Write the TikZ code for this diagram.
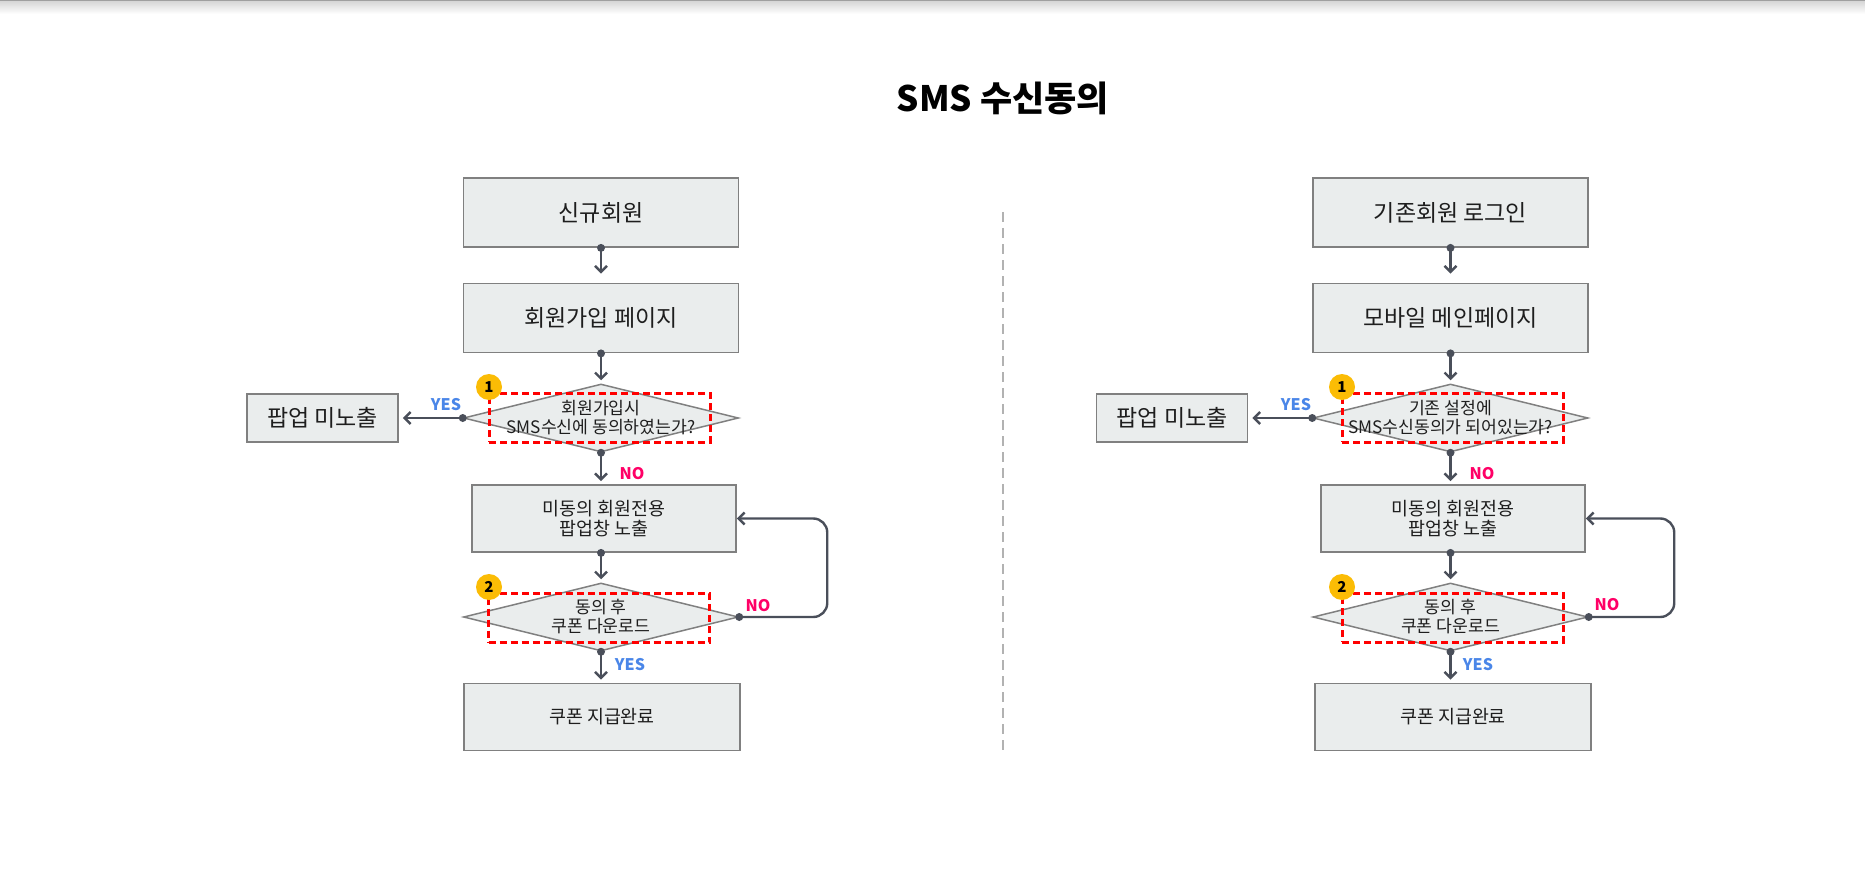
\documentclass[tikz,border=0pt]{standalone}
\usepackage{fontspec}
\setmainfont{Noto Sans CJK KR}
\usetikzlibrary{arrows.meta}
\usetikzlibrary{shapes.geometric}
\definecolor{boxfill}{RGB}{234,237,237}
\definecolor{boxline}{RGB}{128,128,128}
\definecolor{textc}{RGB}{30,30,30}
\definecolor{linkc}{RGB}{74,79,90}
\definecolor{yesc}{RGB}{74,134,232}
\definecolor{noc}{RGB}{255,0,102}
\definecolor{badgec}{RGB}{251,188,5}
\definecolor{markc}{RGB}{255,0,0}
\begin{document}
\begin{tikzpicture}[x=0.5pt,y=0.5pt,yscale=-1,
  stepbox/.style={draw=boxline,line width=0.9pt,fill=boxfill,inner sep=0pt,minimum width=137.5pt,minimum height=34.5pt,text=textc,align=center,font=\fontsize{11.5}{13}\selectfont},
  smallbox/.style={stepbox,font=\fontsize{9.2}{10}\selectfont},
  askbox/.style={diamond,draw=boxline,line width=0.75pt,fill=boxfill,inner sep=0pt,minimum width=137.5pt,minimum height=34pt},
  asktext/.style={text=textc,align=center,inner sep=0pt,font=\fontsize{8.6}{9.5}\selectfont},
  markbox/.style={draw=markc,line width=1.5pt,dash pattern=on 3.5pt off 2pt,minimum width=110.5pt,minimum height=24.5pt,inner sep=0pt},
  badge/.style={circle,fill=badgec,inner sep=0pt,minimum size=13pt,text=black,font=\bfseries\fontsize{7.5}{8}\selectfont},
  yeslabel/.style={text=yesc,inner sep=0pt,font=\bfseries\fontsize{8}{9}\selectfont},
  nolabel/.style={text=noc,inner sep=0pt,font=\bfseries\fontsize{8}{9}\selectfont},
  link/.style={draw=linkc,line width=1.2pt,-{Straight Barb[length=3pt,width=6pt]},shorten >=1.5pt},
  dot/.style={fill=linkc}]
\useasboundingbox (0,0) rectangle (1865,872);
\fill[gray!75] (0,0) rectangle (1865,2);
\shade[top color=gray!30,bottom color=white] (0,2) rectangle (1865,14);
\node[font=\bfseries\fontsize{17.5}{20}\selectfont] (title) at (1003,98) {SMS 수신동의};
\draw[gray!60,line width=0.8pt,dash pattern=on 5pt off 3pt] (1003,212) -- (1003,752);

\node[stepbox] (newA) at (601,212.5) {신규회원};
\node[stepbox] (joinA) at (601,318) {회원가입 페이지};
\node[askbox] (askA) at (601,418) {};
\node[stepbox,minimum width=75.5pt,minimum height=24pt] (hideA) at (322.5,418) {팝업 미노출};
\node[smallbox,minimum width=132pt,minimum height=33.5pt] (popA) at (604,518.5) {미동의 회원전용\\팝업창 노출};
\node[askbox] (dlA) at (601,617) {};
\node[smallbox,minimum width=138pt,minimum height=33.5pt] (doneA) at (602,717) {쿠폰 지급완료};
\node[asktext] (askAtext) at (601,418) {회원가입시\\SMS수신에 동의하였는가?};
\node[asktext] (dlAtext) at (601,617) {동의 후\\쿠폰 다운로드};
\node[markbox] (markA1) at (599.5,417.5) {};
\node[markbox] (markA2) at (599,618) {};
\node[badge] (badgeA1) at (489,387) {1};
\node[badge] (badgeA2) at (489,587) {2};
\fill[dot] (newA.south) circle (4);
\draw[link,shorten >=4.5pt] (newA.south) -- (joinA.north);
\fill[dot] (joinA.south) circle (4);
\draw[link] (joinA.south) -- (askA.north);
\fill[dot] (askA.west) circle (4);
\draw[link,shorten >=2pt] (askA.west) -- (hideA.east);
\fill[dot] (askA.south) circle (4);
\draw[link] (askA.south) -- (askA.south |- popA.north);
\fill[dot] (dlA.north |- popA.south) circle (4);
\draw[link] (dlA.north |- popA.south) -- (dlA.north);
\fill[dot] (dlA.east) circle (4);
\draw[link,shorten >=0pt,rounded corners=7pt] (dlA.east) -- ++(88,0) |- (popA.east);
\fill[dot] (dlA.south) circle (4);
\draw[link] (dlA.south) -- (dlA.south |- doneA.north);
\node[yeslabel] (yesA1) at (446,405) {YES};
\node[nolabel] (noA1) at (632,474) {NO};
\node[nolabel] (noA2) at (758,606) {NO};
\node[yeslabel] (yesA2) at (630,665) {YES};

\node[stepbox] (oldB) at (1450.5,212.5) {기존회원 로그인};
\node[stepbox] (mainB) at (1450.5,318) {모바일 메인페이지};
\node[askbox] (askB) at (1450.5,418) {};
\node[stepbox,minimum width=75.5pt,minimum height=24pt] (hideB) at (1172,418) {팝업 미노출};
\node[smallbox,minimum width=132pt,minimum height=33.5pt] (popB) at (1453,518.5) {미동의 회원전용\\팝업창 노출};
\node[askbox] (dlB) at (1450.5,617) {};
\node[smallbox,minimum width=138pt,minimum height=33.5pt] (doneB) at (1453,717) {쿠폰 지급완료};
\node[asktext] (askBtext) at (1450.5,418) {기존 설정에\\SMS수신동의가 되어있는가?};
\node[asktext] (dlBtext) at (1450.5,617) {동의 후\\쿠폰 다운로드};
\node[markbox] (markB1) at (1452.5,417.5) {};
\node[markbox] (markB2) at (1452.5,617.5) {};
\node[badge] (badgeB1) at (1342,387) {1};
\node[badge] (badgeB2) at (1342,587) {2};
\fill[dot] (oldB.south) circle (4);
\draw[link,shorten >=4.5pt] (oldB.south) -- (mainB.north);
\fill[dot] (mainB.south) circle (4);
\draw[link] (mainB.south) -- (askB.north);
\fill[dot] (askB.west) circle (4);
\draw[link,shorten >=2pt] (askB.west) -- (hideB.east);
\fill[dot] (askB.south) circle (4);
\draw[link] (askB.south) -- (askB.south |- popB.north);
\fill[dot] (dlB.north |- popB.south) circle (4);
\draw[link] (dlB.north |- popB.south) -- (dlB.north);
\fill[dot] (dlB.east) circle (4);
\draw[link,shorten >=0pt,rounded corners=7pt] (dlB.east) -- ++(85.5,0) |- (popB.east);
\fill[dot] (dlB.south) circle (4);
\draw[link] (dlB.south) -- (dlB.south |- doneB.north);
\node[yeslabel] (yesB1) at (1296,405) {YES};
\node[nolabel] (noB1) at (1482,474) {NO};
\node[nolabel] (noB2) at (1607,605) {NO};
\node[yeslabel] (yesB2) at (1478,665) {YES};
\end{tikzpicture}
\end{document}
